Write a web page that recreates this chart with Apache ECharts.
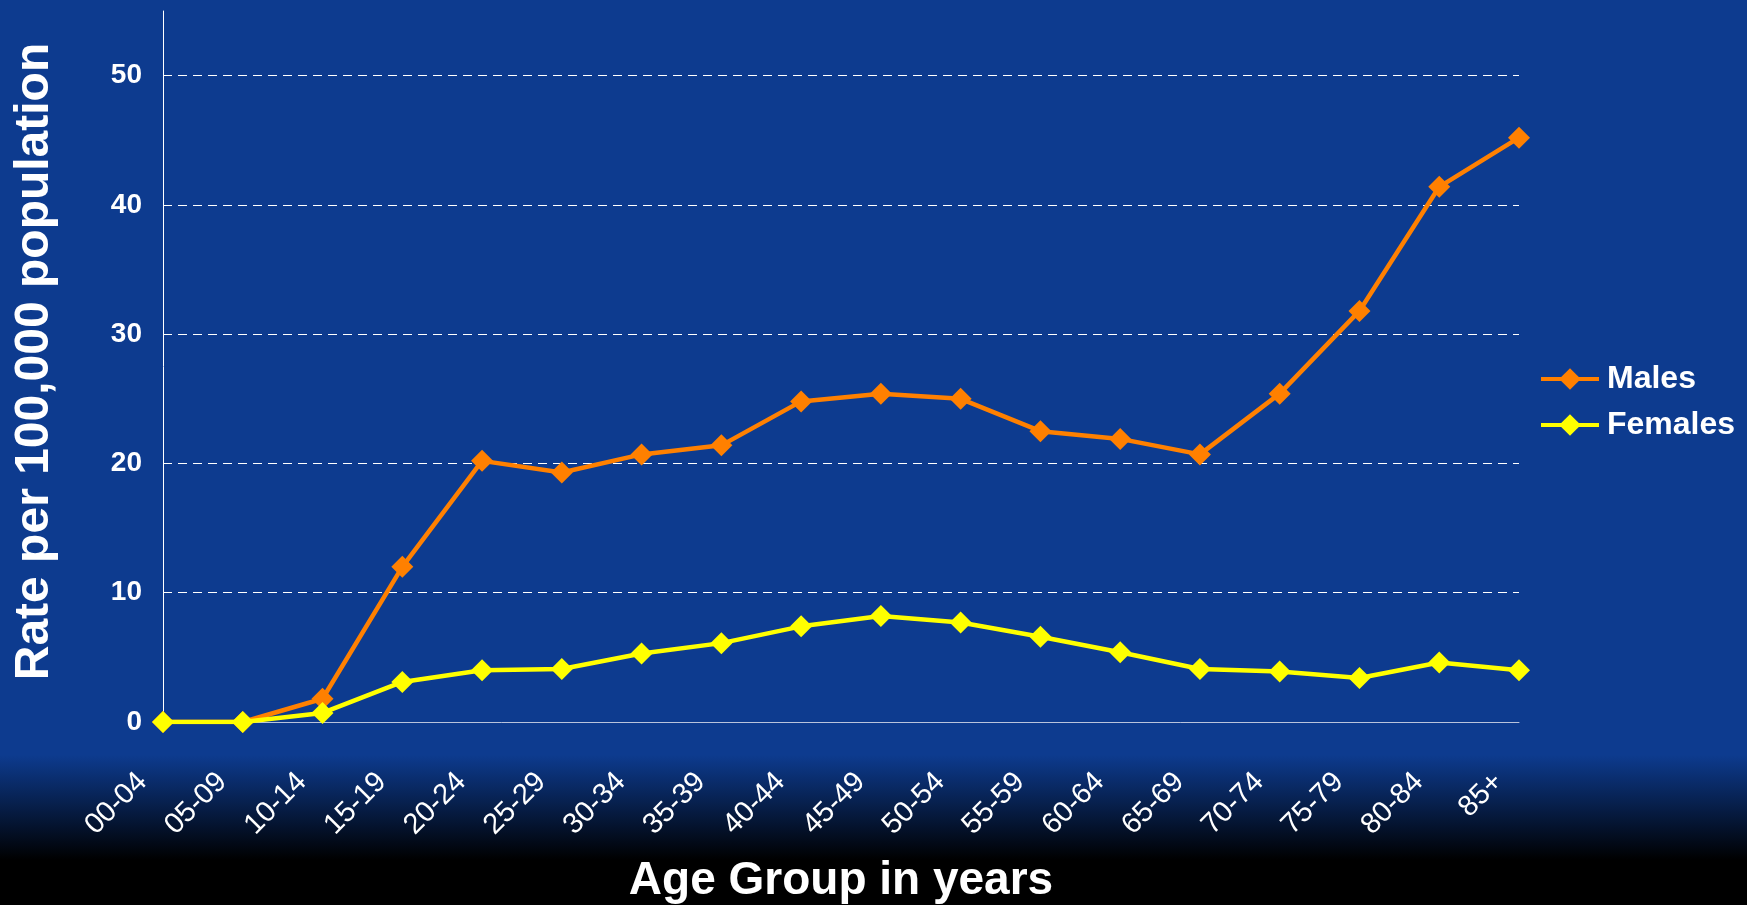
<!DOCTYPE html>
<html>
<head>
<meta charset="utf-8">
<script src="https://cdn.jsdelivr.net/npm/echarts@6/dist/echarts.min.js"></script>
<style>
html,body{margin:0;padding:0;width:1747px;height:905px;overflow:hidden;
background:linear-gradient(to bottom,#0d3b8f 0px,#0d3b8f 755px,#000 860px,#000 905px);}
#c{width:1747px;height:905px;}
</style>
</head>
<body>
<div id="c"></div>
<script>
const categories = ['00-04','05-09','10-14','15-19','20-24','25-29','30-34','35-39','40-44','45-49','50-54','55-59','60-64','65-69','70-74','75-79','80-84','85+'];
const males   = [0, 0, 1.8, 12.0, 20.2, 19.3, 20.7, 21.4, 24.8, 25.4, 25.0, 22.5, 21.9, 20.7, 25.4, 31.8, 41.4, 45.2];
const females = [0, 0, 0.7, 3.1, 4.0, 4.1, 5.3, 6.1, 7.4, 8.2, 7.7, 6.6, 5.4, 4.1, 3.9, 3.4, 4.6, 4.0];
const seriesNames = ['Males', 'Females'];
const yAxisTitle = 'Rate per 100,000 population';
const xAxisTitle = 'Age Group in years';

const FONT = '"Liberation Sans", Arial, sans-serif';
const chart = echarts.init(document.getElementById('c'), null, {renderer: 'canvas'});
chart.setOption({
  backgroundColor: 'transparent',
  animation: false,
  grid: {left: 163, right: 228, top: 11, bottom: 183, containLabel: false, outerBoundsMode: 'none'},
  legend: {
    orient: 'vertical',
    left: 1539, top: 363,
    padding: 0,
    itemWidth: 58, itemHeight: 27, itemGap: 14,
    data: seriesNames,
    lineStyle: {width: 4},
    textStyle: {color: '#fff', fontFamily: FONT, fontWeight: 'bold', fontSize: 32, padding: [0,0,0,3]}
  },
  xAxis: {
    type: 'category',
    data: categories,
    boundaryGap: false,
    axisLine: {lineStyle: {color: '#b9c3dc', width: 1}},
    axisTick: {show: false},
    axisLabel: {color: '#fff', fontFamily: FONT, fontSize: 29, rotate: 45, margin: 35, interval: 0, padding: [0, 29, 0, 0]},
    name: xAxisTitle,
    nameLocation: 'middle',
    nameGap: 136,
    nameTextStyle: {color: '#fff', fontFamily: FONT, fontWeight: 'bold', fontSize: 46}
  },
  yAxis: {
    type: 'value',
    min: 0, max: 55, interval: 10,
    axisLine: {show: true, lineStyle: {color: '#fff', width: 1}},
    axisTick: {show: false},
    axisLabel: {color: '#fff', fontFamily: FONT, fontWeight: 'bold', fontSize: 28, margin: 21, showMaxLabel: false},
    splitLine: {show: true, showMinLine: false, showMaxLine: false, lineStyle: {color: '#fff', type: [9, 6], width: 1}},
    name: yAxisTitle,
    nameLocation: 'middle',
    nameGap: 104,
    nameTextStyle: {color: '#fff', fontFamily: FONT, fontWeight: 'bold', fontSize: 48, padding: [0, 0, 0, 10]}
  },
  series: [
    {name: seriesNames[0], type: 'line', data: males, symbol: 'diamond', symbolSize: 22,
     lineStyle: {color: '#ff8000', width: 4.5}, itemStyle: {color: '#ff8000'}, z: 2},
    {name: seriesNames[1], type: 'line', data: females, symbol: 'diamond', symbolSize: 22,
     lineStyle: {color: '#ffff00', width: 4.5}, itemStyle: {color: '#ffff00'}, z: 3}
  ]
});
</script>
</body>
</html>
